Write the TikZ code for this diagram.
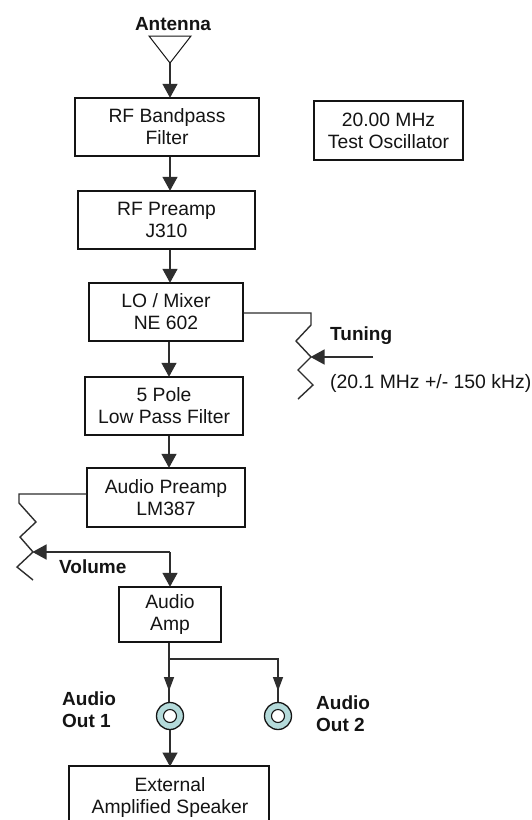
\documentclass[tikz,border=0pt]{standalone}
\usepackage{fontspec}
\setmainfont{Liberation Sans}
\usetikzlibrary{arrows.meta}
\definecolor{ink}{HTML}{141414}
\definecolor{wire}{HTML}{2E2E2E}
\definecolor{jackfill}{HTML}{B4DADA}
\tikzset{
  block/.style={draw=ink,line width=1.4pt,inner sep=0pt,align=center,text=ink,font=\fontsize{19.3}{22}\selectfont},
  lbl/.style={inner sep=0pt,anchor=west,text=ink,align=left,font=\fontsize{19.4}{22}\selectfont},
  bold/.style={lbl,font=\fontsize{19}{22}\selectfont\bfseries},
  wireline/.style={draw=wire,line width=1.4pt},
  big/.style={wireline,-{Triangle[length=14pt,width=15pt]},shorten >=-0.5pt},
  small/.style={wireline,-{Triangle[length=14pt,width=10pt]}},
  jack/.style={circle,draw=ink,line width=1.3pt,fill=jackfill,minimum size=27pt,inner sep=0pt},
  jackhole/.style={circle,draw=ink,line width=1.1pt,fill=white,minimum size=13pt,inner sep=0pt},
}
\begin{document}
\begin{tikzpicture}[x=1pt,y=-1pt]
\useasboundingbox (0,0) rectangle (532,820);
\fill[white] (0,0) rectangle (532,820);
% blocks
\node[block,minimum width=184pt,minimum height=58pt] (bp) at (167,127) {RF Bandpass\\Filter};
\node[block,minimum width=177pt,minimum height=58pt] (pre) at (166.5,220) {RF Preamp\\J310};
\node[block,minimum width=154pt,minimum height=58pt] (lo) at (166,312) {LO / Mixer\\NE 602};
\node[block,minimum width=158pt,minimum height=58pt] (lp) at (164,406) {5 Pole\\Low Pass Filter};
\node[block,minimum width=158pt,minimum height=59pt] (ap) at (166,497.5) {Audio Preamp\\LM387};
\node[block,minimum width=102pt,minimum height=55pt] (amp) at (170,614.5) {Audio\\Amp};
\node[block,minimum width=149pt,minimum height=59pt] (osc) at (388.5,130.5) {20.00 MHz\\Test Oscillator};
% external speaker: box runs off the bottom edge
\path[draw=ink,line width=1.4pt] (69,826) -- (69,766) -- (269,766) -- (269,826);
\node[inner sep=0pt,align=center,text=ink,font=\fontsize{19.3}{22}\selectfont] (ext) at (170,797) {External\\Amplified Speaker};
\coordinate (exttop) at (170,766);
% antenna
\node[bold,anchor=center] (antl) at (173,24) {Antenna};
\coordinate (ant) at (170,63);
\draw[draw=ink,line width=1pt,line join=miter] (149,36) -- (191,36) -- (ant) -- cycle;
% jacks
\node[jack] (j1) at (170,716) {};
\node[jackhole] at (j1) {};
\node[jack] (j2) at (278,716) {};
\node[jackhole] at (j2) {};
% main chain
\draw[big] (ant) -- (ant |- bp.north);
\draw[big] (ant |- bp.south) -- (ant |- pre.north);
\draw[big] (ant |- pre.south) -- (ant |- lo.north);
\coordinate (c) at (169,0);
\draw[big] (c |- lo.south) -- (c |- lp.north);
\draw[big] (c |- lp.south) -- (c |- ap.north);
% tuning
\node[bold] (tun) at (330,336) {Tuning};
\node[lbl] (rng) at (330,383) {(20.1 MHz +/- 150 kHz)};
\coordinate (twip) at (311,357);
\coordinate (tin) at (373,357);
\draw[wireline,line join=miter] (lo.east |- 0,313) -- (311,313) -- (311,325) -- (296,341) -- (twip) -- (298,370) -- (313,385) -- (298,399);
\draw[big] (tin) -- (twip);
% volume
\node[bold] (vol) at (59,567) {Volume};
\coordinate (vwip) at (33,552);
\coordinate (vcorner) at (170,552);
\draw[wireline,line join=miter] (ap.west |- 0,494) -- (19,494) -- (19,503) -- (36,522) -- (20,537) -- (vwip) -- (17,567) -- (33,580);
\draw[big] (vcorner) -- (vwip);
\draw[big] (vcorner) -- (amp.north);
% outputs
\coordinate (tee) at (169,659);
\coordinate (tip1) at (169,691);
\coordinate (tip2) at (278,691);
\draw[wireline] (c |- amp.south) -- (c |- j1.north);
\draw[small] (c |- amp.south) -- (tip1);
\draw[wireline] (tee) -- (tee -| j2) -- (j2.north);
\draw[small] (tee -| j2) -- (tip2);
\draw[big] (j1.south) -- (exttop);
\node[bold] (o1) at (62,709.5) {Audio\\Out 1};
\node[bold] (o2) at (316,714) {Audio\\Out 2};
\end{tikzpicture}
\end{document}
